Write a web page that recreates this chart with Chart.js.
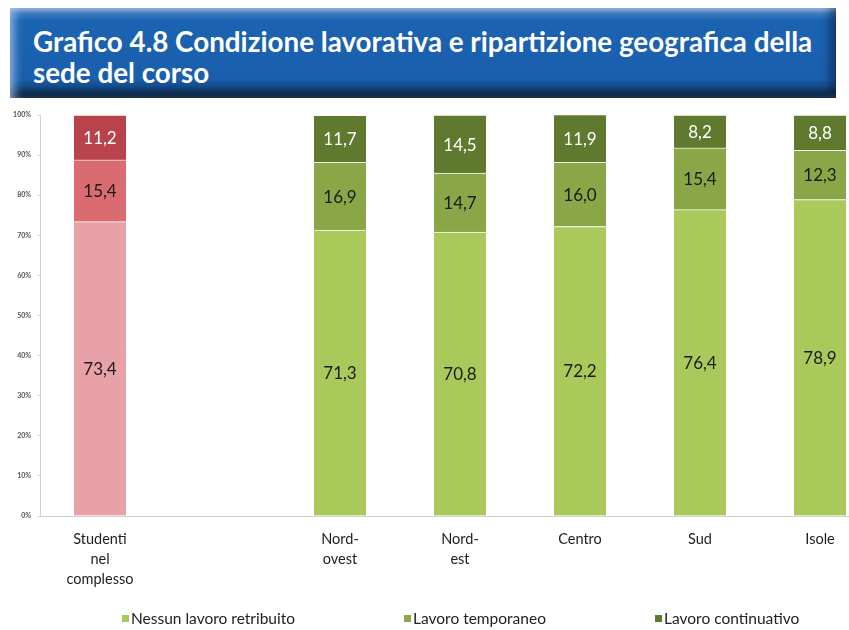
<!DOCTYPE html>
<html>
<head>
<meta charset="utf-8">
<script src="https://cdn.jsdelivr.net/npm/chart.js@4/dist/chart.umd.min.js"></script>
<style>
  html, body { margin: 0; padding: 0; background: #fff; overflow: hidden; width: 849px; height: 630px; }
  #banner {
    position: absolute; left: 10px; top: 8px; width: 826px; height: 90px;
    background: linear-gradient(to bottom, #9dbde2 0%, #3f7cc2 6%, #1b63b1 14%, #1a5fad 78%, #154e8f 86%, #0e3058 94%, #0a1c33 100%);
    box-shadow: inset 8px 0 10px -4px rgba(170,200,235,0.8), inset -10px 0 10px -4px rgba(10,30,60,0.6);
  }
  .tline {
    position: absolute; left: 23px; color: #fff; font: bold 28px Lato, "Open Sans", sans-serif;
    white-space: nowrap; transform-origin: left center;
  }
  #wrap { position: absolute; left: 0; top: 100px; width: 890px; height: 530px; }
</style>
</head>
<body>
<div id="banner">
  <span class="tline" id="t1" style="top:16px">Grafico 4.8 Condizione lavorativa e ripartizione geografica della</span>
  <span class="tline" id="t2" style="top:47px">sede del corso</span>
</div>
<div id="wrap"><canvas id="chart" width="890" height="530"></canvas></div>
<script>
// dati
const categorie = [['Studenti', 'nel', 'complesso'], '', ['Nord-', 'ovest'], ['Nord-', 'est'], 'Centro', 'Sud', 'Isole'];
const nessunLavoro = [73.4, null, 71.3, 70.8, 72.2, 76.4, 78.9];
const lavoroTemporaneo = [15.4, null, 16.9, 14.7, 16.0, 15.4, 12.3];
const lavoroContinuativo = [11.2, null, 11.7, 14.5, 11.9, 8.2, 8.8];
const serie = ['Nessun lavoro retribuito', 'Lavoro temporaneo', 'Lavoro continuativo'];
const tickY = [0, 10, 20, 30, 40, 50, 60, 70, 80, 90, 100];

// colori: il primo gruppo (totale) in rosso, le aree in verde
const rossi = ['#e9a1a8', '#da6b71', '#b8434b'];
const verdi = ['#a9ca5b', '#8ba647', '#5f7a2f'];

// titolo: adatta la larghezza a quella del riferimento
const t1 = document.getElementById('t1'), t2 = document.getElementById('t2');
const sx = 779 / t1.offsetWidth;
t1.style.transform = 'scaleX(' + sx + ')';
t2.style.transform = 'scaleX(' + sx + ')';

const FONT = 'Lato, "Open Sans", sans-serif';

function colore(k) {
  return function (c) { return c.dataIndex === 0 ? rossi[k] : verdi[k]; };
}

// etichette dei valori dentro le barre
const etichette = {
  id: 'etichette',
  afterDatasetsDraw(chart) {
    const ctx = chart.ctx;
    ctx.save();
    ctx.font = '17px ' + FONT;
    ctx.textAlign = 'center';
    ctx.textBaseline = 'middle';
    chart.data.datasets.forEach((ds, i) => {
      chart.getDatasetMeta(i).data.forEach((bar, j) => {
        const v = ds.data[j];
        if (v == null) return;
        ctx.fillStyle = i === 2 ? '#ffffff' : '#1a1a1a';
        ctx.fillText(v.toFixed(1).replace('.', ','), bar.x, (bar.y + bar.base) / 2 + 1);
      });
    });
    ctx.restore();
  }
};

// legenda in basso con le posizioni del riferimento
const legenda = {
  id: 'legenda',
  afterDraw(chart) {
    const ctx = chart.ctx;
    const xs = [122, 404, 655];
    const y = 519;
    ctx.save();
    ctx.font = '15.5px ' + FONT;
    ctx.textBaseline = 'middle';
    chart.data.datasets.forEach((ds, i) => {
      ctx.fillStyle = verdi[i];
      ctx.fillRect(xs[i], y - 4, 7, 7);
      ctx.fillStyle = '#222';
      ctx.fillText(ds.label, xs[i] + 9, y);
    });
    ctx.restore();
  }
};

const valori = [nessunLavoro, lavoroTemporaneo, lavoroContinuativo];

new Chart(document.getElementById('chart'), {
  type: 'bar',
  data: {
    labels: categorie,
    datasets: serie.map((nome, k) => ({
      label: nome,
      data: valori[k],
      backgroundColor: colore(k),
      borderColor: 'rgba(255,255,255,0.7)',
      borderWidth: { top: 1, bottom: 0, left: 0, right: 0 },
      borderSkipped: false,
      barThickness: 52
    }))
  },
  options: {
    responsive: false,
    animation: false,
    layout: { padding: { top: 15, right: 10, bottom: 24, left: 0 } },
    plugins: {
      legend: { display: false },
      tooltip: { enabled: false }
    },
    scales: {
      x: {
        stacked: true,
        grid: { display: false },
        border: { color: '#d0d0d0' },
        ticks: { color: '#222', font: { family: FONT, size: 14.5, lineHeight: 1.4 }, padding: 5, maxRotation: 0, autoSkip: false },
        afterFit(s) { s.height = 90; }
      },
      y: {
        stacked: true,
        min: 0,
        max: 100,
        afterBuildTicks(s) { s.ticks = tickY.map(v => ({ value: v })); },
        grid: { drawOnChartArea: false, tickLength: 3, color: '#dddddd' },
        border: { color: '#d0d0d0' },
        ticks: { color: '#555', font: { family: FONT, size: 7, weight: 'bold' }, padding: 6, callback: v => v + '%' },
        afterFit(s) { s.width = 40; }
      }
    }
  },
  plugins: [etichette, legenda]
});
</script>
</body>
</html>
